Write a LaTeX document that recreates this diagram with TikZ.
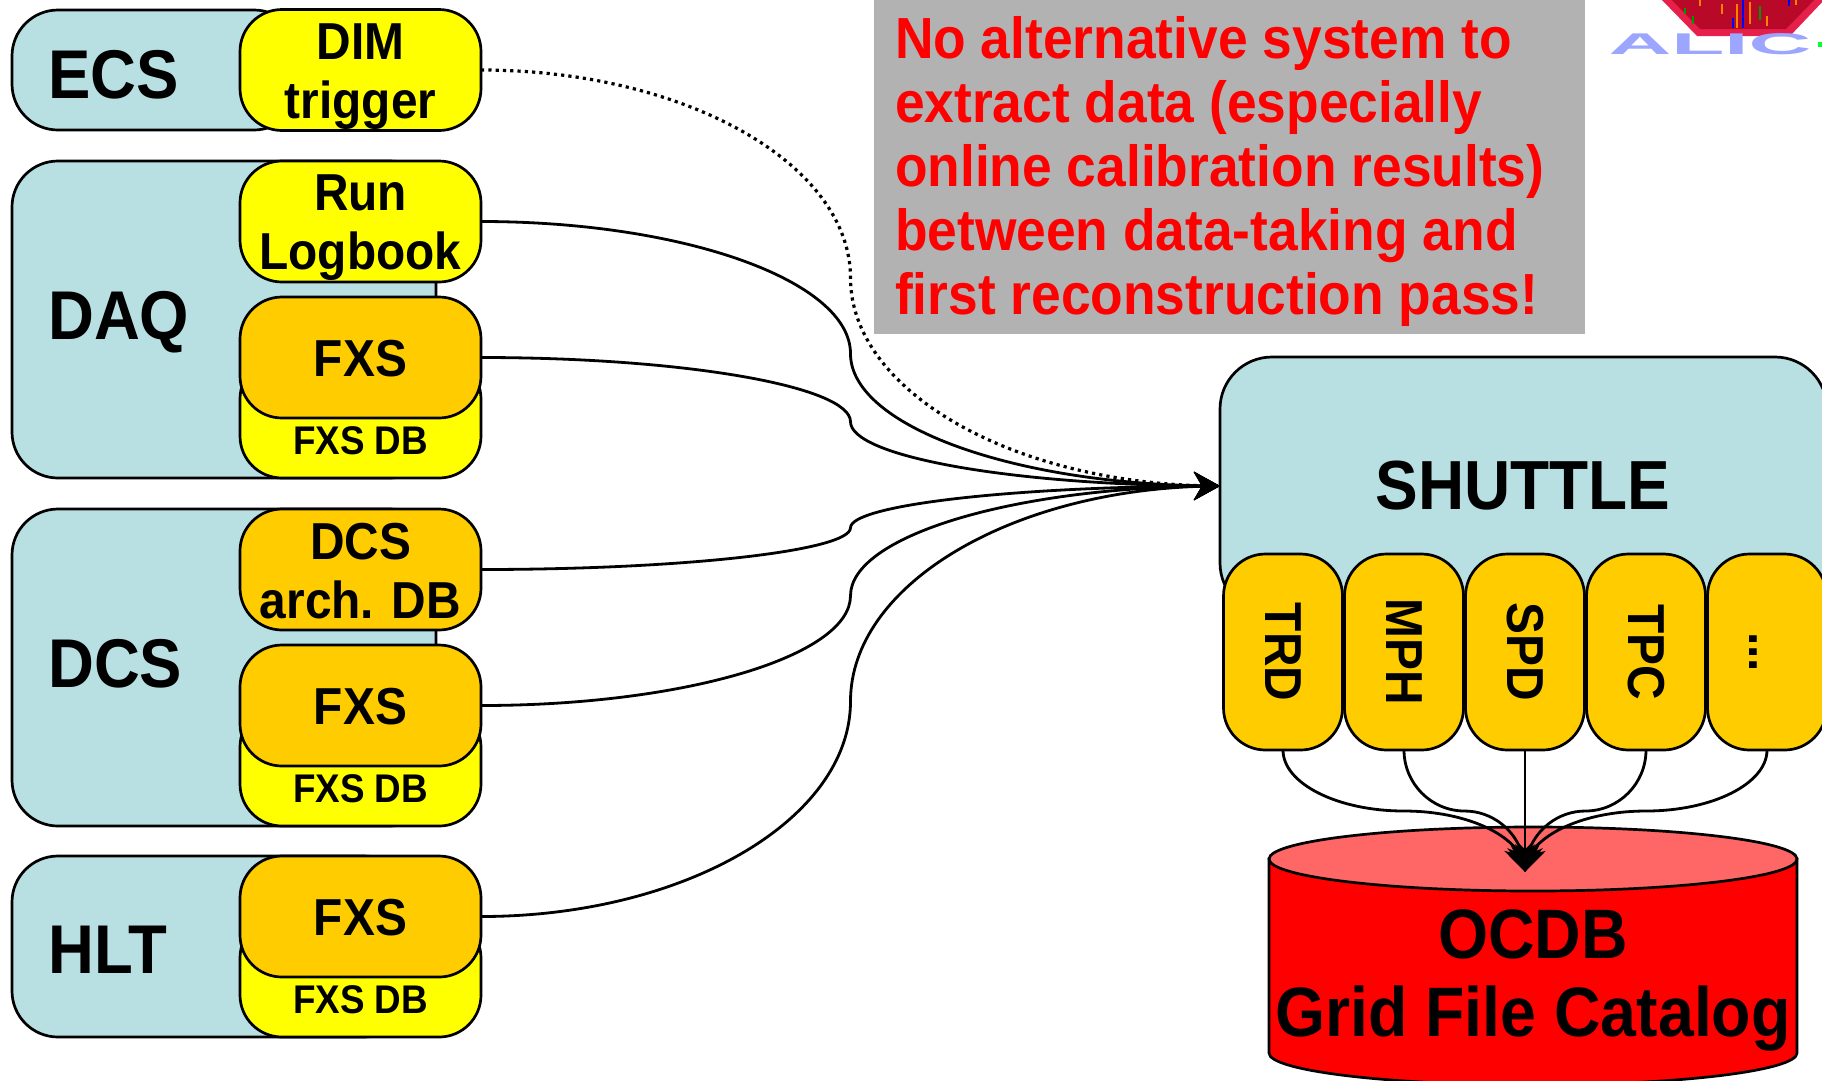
\documentclass[tikz,border=0pt]{standalone}
\usepackage{fontspec}
\setmainfont[FakeStretch=0.92]{Liberation Sans}
\usetikzlibrary{arrows.meta,bending,calc,positioning}
\definecolor{paleblue}{HTML}{B8DFE2}
\definecolor{boxyellow}{HTML}{FFFF00}
\definecolor{boxorange}{HTML}{FFCC00}
\definecolor{panelgrey}{HTML}{B2B2B2}
\definecolor{cylred}{HTML}{FF0000}
\definecolor{cyltop}{HTML}{FF6666}
\definecolor{logored}{HTML}{E6204A}
\definecolor{logodark}{HTML}{B80A28}
\definecolor{logotext}{HTML}{9DA6FF}
\tikzset{
x=1pt,y=-1pt,
frame/.style={draw=black,line width=2.7pt,inner sep=0pt,outer sep=0pt},
sysbox/.style={frame,fill=paleblue,rounded corners=46pt},
sysname/.style={anchor=west,inner sep=0pt,font=\fontsize{69}{69}\selectfont\bfseries},
srcbox/.style={frame,rounded corners=42pt,minimum width=241pt,minimum height=121pt,align=center,
font=\fontsize{52}{59}\selectfont\bfseries},
yellowbox/.style={srcbox,fill=boxyellow},
orangebox/.style={srcbox,fill=boxorange},
dblabel/.style={inner sep=0pt,font=\fontsize{40}{40}\selectfont\bfseries},
detbox/.style={frame,fill=boxorange,rounded corners=42pt,minimum width=119pt,minimum height=196pt,
font=\fontsize{52}{52}\selectfont\bfseries},
link/.style={line width=2.8pt,-{Stealth[length=26pt,width=28pt,inset=8pt]}},
dimlink/.style={link,line width=3.2pt,dash pattern=on 3.2pt off 4.1pt},
}
\newcommand{\lift}[1]{\rule{0pt}{#1}}
\newcommand{\detdots}{\vphantom{T}.{}.{}.}
\newcommand{\feedlink}[2][link]{
\coordinate (kink) at ($(#2.east)!.5!(shuttle.west)$);
\draw[#1] (#2.east) .. controls ($(#2.east)!.55!(kink |- #2.east)$) and ($(kink)!.55!(kink |- #2.east)$) .. (kink)
.. controls ($(kink)!.55!(kink |- shuttle.west)$) and ($(shuttle.west)!.55!(kink |- shuttle.west)$) .. (shuttle.west);
}
\newcommand{\storelink}[1]{
\coordinate (turn) at ($(#1.south)!.5!(ocdbin)$);
\draw[link] (#1.south) .. controls ($(#1.south)!.55!(#1.south |- turn)$) and ($(turn)!.55!(#1.south |- turn)$) .. (turn)
.. controls ($(turn)!.55!(ocdbin |- turn)$) and ($(ocdbin)!.55!(ocdbin |- turn)$) .. (ocdbin);
}
\begin{document}
\begin{tikzpicture}
\useasboundingbox (0,0) rectangle (1822,1080);
\clip (0,0) rectangle (1822,1080);
\fill[white] (0,0) rectangle (1822,1080);
% logo in the corner
\fill[logored] (1660,-2) -- (1697,36) -- (1790,36) -- (1826,-2) -- cycle;
\fill[logodark] (1670,-2) -- (1700,29) -- (1786,29) -- (1816,-2) -- cycle;
\foreach \xa/\ya/\yb/\lcol in {1685/8/14/green!60!black,1693/16/24/green!60!black,1700/0/6/orange,1722/4/14/orange,1733/18/28/blue,1737/4/28/orange,1743/0/28/blue,1750/2/24/orange,1760/6/20/green!60!black,1767/16/26/orange,1789/0/6/blue,1796/0/5/orange}
\draw[\lcol,line width=2pt] (\xa,\ya) -- (\xa,\yb);
\node[inner sep=0pt,text=logotext,xscale=3.15,transform shape,font=\fontsize{30}{30}\selectfont\bfseries] (alice) at (1710,44) {ALIC};
\fill[green!80!cyan] (1818,42) rectangle (1822,47);
% left column
\node[sysbox,minimum width=288pt,minimum height=120pt] (ecs) at (156,70) {};
\node[sysname] (ecsname) at (48,75) {ECS};
\node[yellowbox] (dim) at (360.5,70) {\lift{50pt}DIM\\trigger};
\node[sysbox,minimum width=424pt,minimum height=317pt] (daq) at (224,319.5) {};
\node[sysname] (daqname) at (48,322) {DAQ};
\node[yellowbox] (logbook) at (360.5,221.5) {\lift{49pt}Run\\Logbook};
\node[yellowbox] (daqdb) at (360.5,417.5) {};
\node[dblabel,above=23pt of daqdb.south] (daqdbname) {FXS DB};
\node[orangebox] (daqfxs) at (360.5,357.5) {\lift{39pt}FXS};
\node[sysbox,minimum width=424pt,minimum height=317pt] (dcs) at (224,667.5) {};
\node[sysname] (dcsname) at (48,664) {DCS};
\node[orangebox] (dcsarch) at (360.5,569.5) {\lift{39pt}DCS\\arch. DB};
\node[yellowbox] (dcsdb) at (360.5,765.5) {};
\node[dblabel,above=23pt of dcsdb.south] (dcsdbname) {FXS DB};
\node[orangebox] (dcsfxs) at (360.5,705.5) {\lift{39pt}FXS};
\node[sysbox,minimum width=398pt,minimum height=181pt] (hlt) at (211,946.5) {};
\node[sysname] (hltname) at (48,950) {HLT};
\node[yellowbox] (hltdb) at (360.5,976.5) {};
\node[dblabel,above=23pt of hltdb.south] (hltdbname) {FXS DB};
\node[orangebox] (hltfxs) at (360.5,916.5) {\lift{39pt}FXS};
% grey panel
\node[fill=panelgrey,inner sep=0pt,minimum width=711pt,minimum height=334pt,text width=669pt,align=flush left,text=red,
font=\fontsize{58}{64}\selectfont\bfseries] (panel) at (1229.5,167)
{\lift{52pt}No alternative system to\\extract data (especially\\online calibration results)\\between data-taking and\\first reconstruction pass!};
% shuttle with its detectors
\node[sysbox,rounded corners=52pt,minimum width=607pt,minimum height=258pt] (shuttle) at (1523.5,486) {};
\node[inner sep=0pt,font=\fontsize{69.5}{70}\selectfont\bfseries] (shuttlename) at (1523,486) {SHUTTLE};
\foreach \det/\detname [count=\i from 0] in {trd/TRD,mph/MPH,spd/SPD,tpc/TPC,more/\detdots}
\node[detbox] (\det) at ({1283+121*\i},652) {\rotatebox{-90}{\detname}};
% store
\draw[draw=black,line width=2.7pt,fill=cylred] (1269,859) -- (1269,1053) arc[start angle=180,end angle=360,x radius=264pt,y radius=32pt] -- (1797,859) -- cycle;
\draw[draw=black,line width=2.7pt,fill=cyltop] (1533,859) ellipse[x radius=264pt,y radius=32pt];
\node[inner sep=0pt,align=center,font=\fontsize{70}{78}\selectfont\bfseries] (ocdbname) at (1533,980) {OCDB\\Grid File Catalog};
\coordinate (ocdbin) at (1525,872);
% connectors
\feedlink[dimlink]{dim}
\feedlink{logbook}
\feedlink{daqfxs}
\feedlink{dcsarch}
\feedlink{dcsfxs}
\feedlink{hltfxs}
\foreach \det in {trd,mph,spd,tpc,more}
{\storelink{\det}}
\end{tikzpicture}
\end{document}
